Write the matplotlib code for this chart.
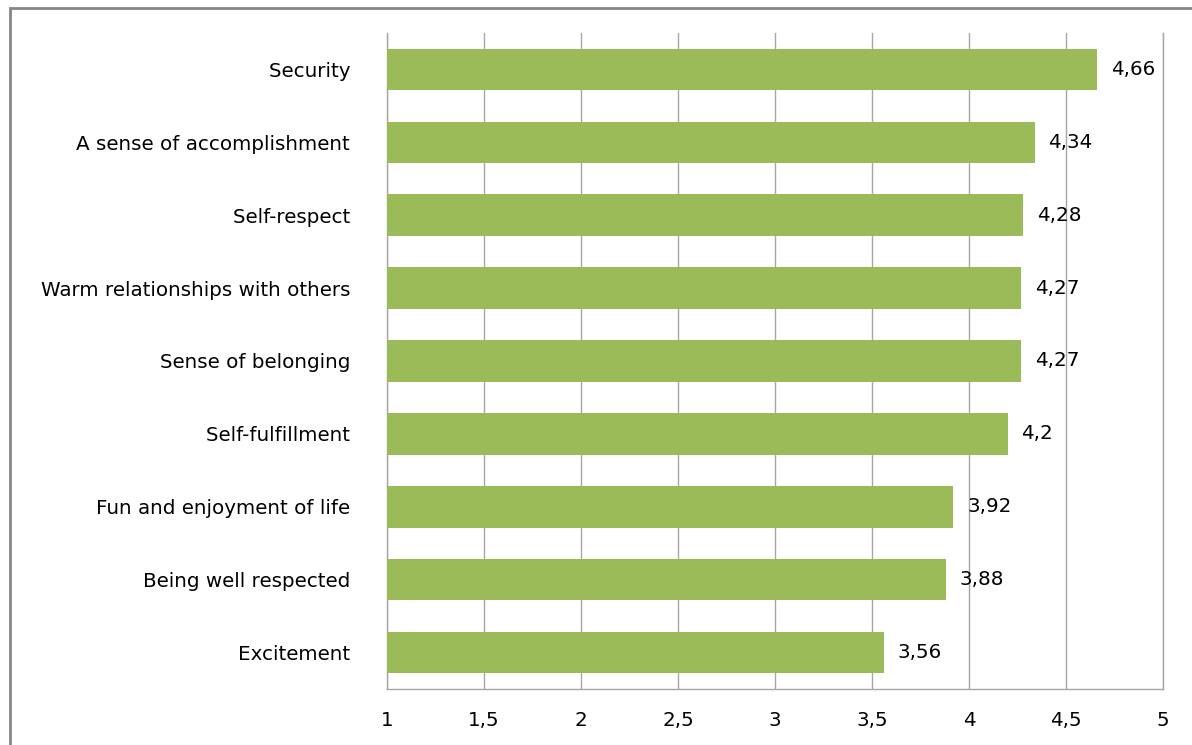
import matplotlib
matplotlib.use("Agg")
import matplotlib.pyplot as plt
from matplotlib.patches import Rectangle
from matplotlib.ticker import FixedLocator

categories = ["Security", "A sense of accomplishment", "Self-respect",
              "Warm relationships with others", "Sense of belonging",
              "Self-fulfillment", "Fun and enjoyment of life",
              "Being well respected", "Excitement"]
values = [4.66, 4.34, 4.28, 4.27, 4.27, 4.2, 3.92, 3.88, 3.56]
value_labels = ["4,66", "4,34", "4,28", "4,27", "4,27", "4,2", "3,92", "3,88", "3,56"]
xticks = [1, 1.5, 2, 2.5, 3, 3.5, 4, 4.5, 5]
xtick_labels = ["1", "1,5", "2", "2,5", "3", "3,5", "4", "4,5", "5"]

plt.rcParams['font.family'] = ['DejaVu Sans']

fig = plt.figure(figsize=(11.92, 7.45), dpi=100)
ax = fig.add_axes([387/1192, 1-689/745, (1163-387)/1192, (689-33)/745])

y = list(range(len(categories)))
ax.barh(y, [v - 1 for v in values], left=1, height=0.57, color="#9BBB59", zorder=3)
ax.set_ylim(len(categories) - 0.5, -0.5)
ax.set_xlim(1, 5)

fs = 14.3
ax.xaxis.set_major_locator(FixedLocator(xticks))
ax.set_xticklabels(xtick_labels, fontsize=fs, color="#000000")
ax.set_yticks(y)
ax.set_yticklabels([c + " " for c in categories], fontsize=fs, color="#000000")
ax.tick_params(axis='x', length=0, pad=16)
ax.tick_params(axis='y', length=0, pad=22)
ax.grid(axis='x', color="#a6a6a6", linewidth=1.0, zorder=0)

ax.spines['top'].set_visible(False)
for s in ['left', 'bottom', 'right']:
    ax.spines[s].set_color("#a6a6a6")
    ax.spines[s].set_linewidth(1.0)

for yi, v, lab in zip(y, values, value_labels):
    ax.text(v + 0.07, yi, lab, va='center', ha='left', fontsize=fs, color="#000000", zorder=4)

fig.patches.append(Rectangle((10/1192, -0.02), 1.02, 1 - 8/745 + 0.02,
                             transform=fig.transFigure, fill=False,
                             edgecolor="#868686", linewidth=2))

fig.savefig("out.png", dpi=100)
